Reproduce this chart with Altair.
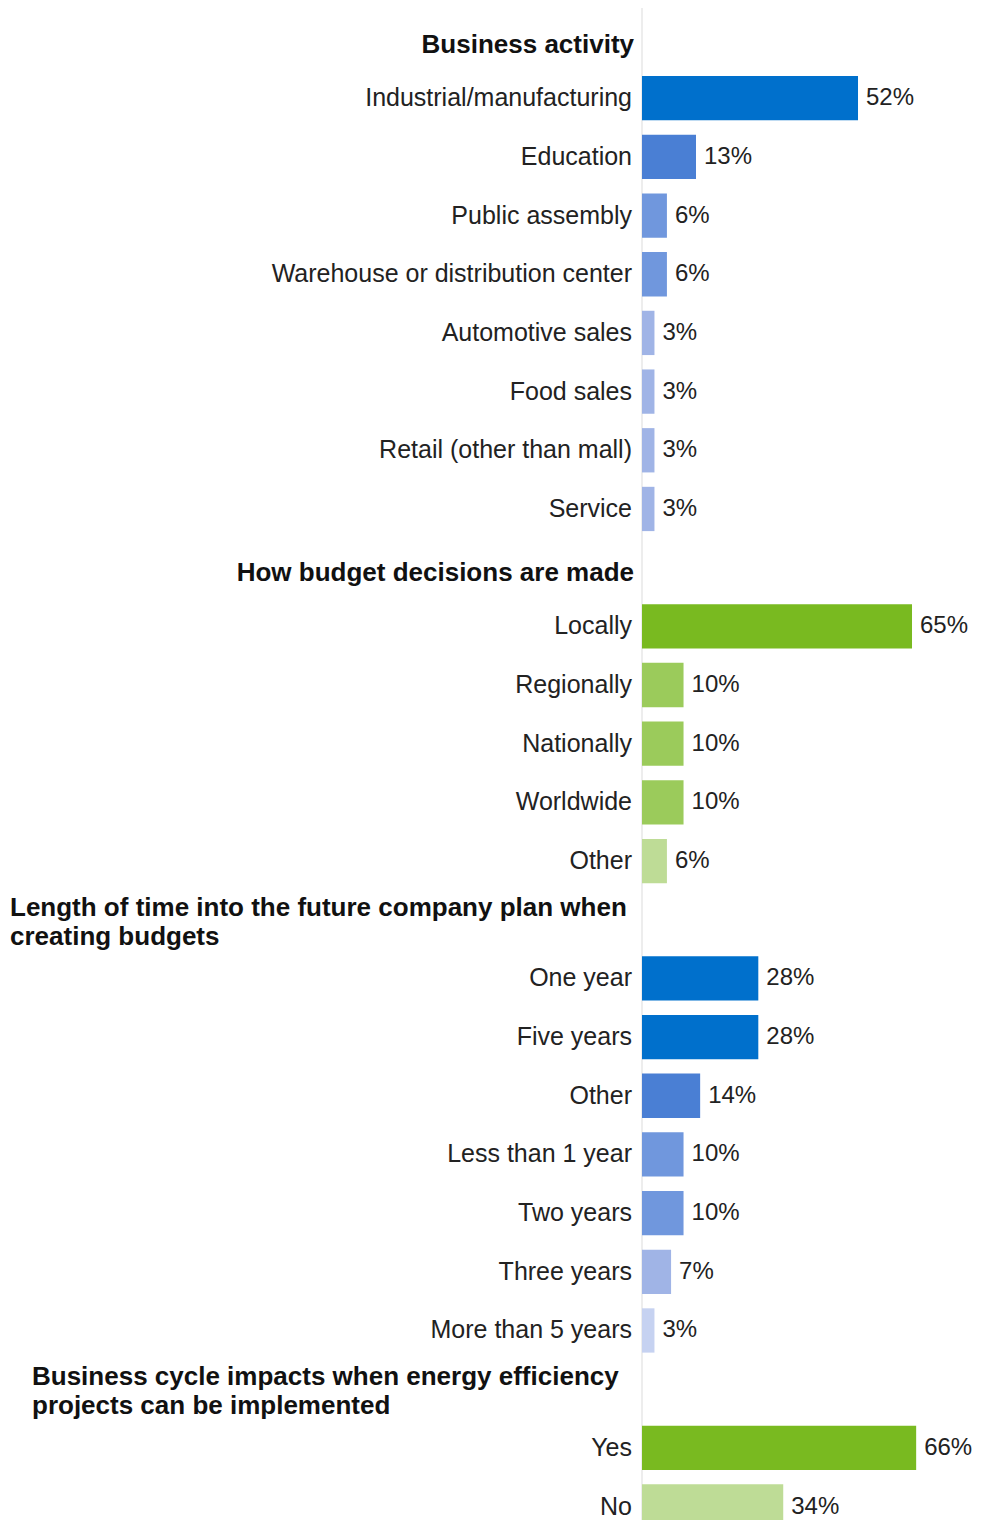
import altair as alt
import pandas as pd

# ---- data ----
headers = [
    "Business activity",
    "How budget decisions are made",
    "Length of time into the future company plan when\ncreating budgets",
    "Business cycle impacts when energy efficiency\nprojects can be implemented",
]
group_palette = ["blue", "green", "blue", "green"]

ba_labels = ["Industrial/manufacturing", "Education", "Public assembly",
             "Warehouse or distribution center", "Automotive sales",
             "Food sales", "Retail (other than mall)", "Service"]
ba_values = [52, 13, 6, 6, 3, 3, 3, 3]
ba_shade = [0, 1, 2, 2, 3, 3, 3, 3]

bd_labels = ["Locally", "Regionally", "Nationally", "Worldwide", "Other"]
bd_values = [65, 10, 10, 10, 6]
bd_shade = [0, 1, 1, 1, 2]

lt_labels = ["One year", "Five years", "Other", "Less than 1 year",
             "Two years", "Three years", "More than 5 years"]
lt_values = [28, 28, 14, 10, 10, 7, 3]
lt_shade = [0, 0, 1, 2, 2, 3, 4]

bc_labels = ["Yes", "No"]
bc_values = [66, 34]
bc_shade = [0, 2]

# ---- styles ----
blues = ["#0070CC", "#4A7FD4", "#7097DD", "#A0B4E6", "#C6D2F1"]
greens = ["#79BA20", "#9BCB5B", "#BEDC96"]

groups = [
    (ba_labels, ba_values, ba_shade),
    (bd_labels, bd_values, bd_shade),
    (lt_labels, lt_values, lt_shade),
    (bc_labels, bc_values, bc_shade),
]

bar_rows = []
head_rows = []
r = 0
for gi, (labs, vals, shades) in enumerate(groups):
    head_rows.append({"row": r, "text": headers[gi], "g": gi})
    r += 1
    for lab, v, s in zip(labs, vals, shades):
        bar_rows.append({"row": r, "label": lab, "value": v,
                         "pct": f"{v}%", "key": f"{group_palette[gi]}{s}"})
        r += 1

bars_df = pd.DataFrame(bar_rows)
head_df = pd.DataFrame(head_rows)
single_df = head_df[~head_df["text"].str.contains("\n")]
multi_df = head_df[head_df["text"].str.contains("\n")].copy()
multi_left = {2: -632, 3: -610}
multi_df["hx"] = multi_df["g"].map(multi_left)
multi_df["lines"] = multi_df["text"].str.split("\n")

color_domain = [f"blue{i}" for i in range(len(blues))] + [f"green{i}" for i in range(len(greens))]
color_range = blues + greens

FONT = "Liberation Sans"
H = 1512
W = 332
step = 59.07
d0 = -26.7 / step
d1 = d0 + H / step
yscale = alt.Scale(domain=[d0, d1], reverse=True, nice=False, zero=False)
xscale = alt.Scale(domain=[0, W / 4.154], nice=False)

base = alt.Chart(bars_df)

bars = base.mark_bar(size=44.3, orient="horizontal").encode(
    x=alt.X("value:Q", scale=xscale, axis=None),
    y=alt.Y("row:Q", scale=yscale, axis=None),
    color=alt.Color("key:N", scale=alt.Scale(domain=color_domain, range=color_range), legend=None),
)

values = base.mark_text(align="left", baseline="middle", dx=8, font=FONT,
                        fontSize=24, color="#222222").encode(
    x=alt.X("value:Q", scale=xscale, axis=None),
    y=alt.Y("row:Q", scale=yscale, axis=None),
    text="pct:N",
)

labels = base.mark_text(align="right", baseline="middle", dx=-10, font=FONT,
                        fontSize=25, color="#222222").encode(
    x=alt.value(0),
    y=alt.Y("row:Q", scale=yscale, axis=None),
    text="label:N",
)

heads1 = alt.Chart(single_df).mark_text(align="right", baseline="middle", dx=-8, dy=5,
                                         font=FONT, fontSize=26, fontWeight="bold",
                                         color="#111111").encode(
    x=alt.value(0),
    y=alt.Y("row:Q", scale=yscale, axis=None),
    text="text:N",
)

heads2 = alt.Chart(multi_df).mark_text(align="left", baseline="middle", dy=-12,
                                        font=FONT, fontSize=26, fontWeight="bold",
                                        lineHeight=29, color="#111111").encode(
    x=alt.X("hx:Q", scale=None, axis=None),
    y=alt.Y("row:Q", scale=yscale, axis=None),
    text="lines",
)

axis_line = alt.Chart(pd.DataFrame({"x0": [0]})).mark_rule(
    color="#EDEDED", strokeWidth=2).encode(x=alt.X("x0:Q", scale=xscale, axis=None))

chart = alt.layer(axis_line, bars, values, labels, heads1, heads2).properties(
    width=W, height=H,
    padding={"left": 634, "top": 0, "right": 0, "bottom": 0},
    autosize="none",
).configure_view(stroke=None)

chart.save("out.html", embed_options={"renderer": "svg", "actions": False})
